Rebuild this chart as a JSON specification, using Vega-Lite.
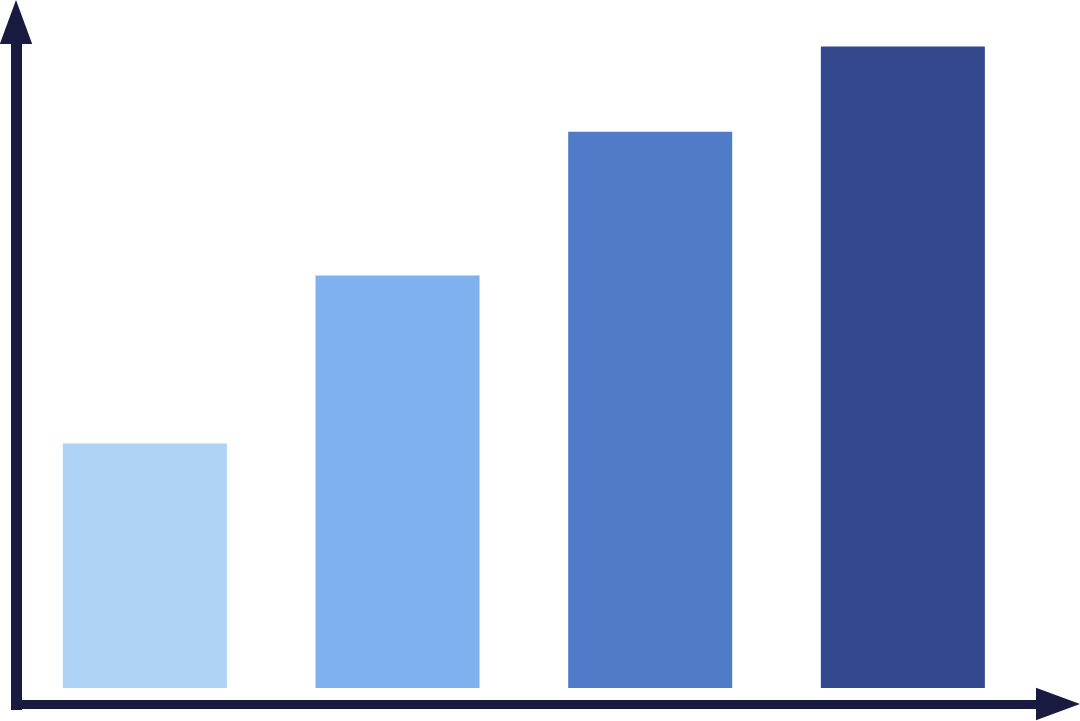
{
  "$schema": "https://vega.github.io/schema/vega-lite/v6.json",
  "width": 1042,
  "height": 682,
  "autosize": "none",
  "padding": {"left": 16, "top": 22, "right": 22, "bottom": 17},
  "background": "white",
  "config": {"view": {"stroke": null}},
  "data": {
    "values": [
      {"n": 1, "value": 38.1},
      {"n": 2, "value": 64.3},
      {"n": 3, "value": 86.7},
      {"n": 4, "value": 100}
    ]
  },
  "layer": [
    {
      "mark": {"type": "bar", "width": 164, "opacity": 1},
      "encoding": {
        "x": {
          "field": "n",
          "type": "quantitative",
          "scale": {"domain": [0.49, 4.614], "nice": false, "zero": false, "padding": 0},
          "axis": {
            "title": null,
            "labels": false,
            "ticks": false,
            "grid": false,
            "domainColor": "#181A40",
            "domainWidth": 9
          }
        },
        "y": {
          "field": "value",
          "type": "quantitative",
          "scale": {"domain": [-2.5, 103.8], "nice": false, "zero": false},
          "axis": {
            "title": null,
            "labels": false,
            "ticks": false,
            "grid": false,
            "domainColor": "#181A40",
            "domainWidth": 11,
            "domainCap": "square"
          }
        },
        "y2": {"datum": 0},
        "color": {
          "field": "n",
          "type": "nominal",
          "scale": {"range": ["#AED3F7", "#7FB1F1", "#4F7BC8", "#34498D"]},
          "legend": null
        }
      }
    },
    {
      "data": {"values": [{}]},
      "mark": {
        "type": "point",
        "shape": "M0,-1L0.736,1L-0.736,1Z",
        "filled": true,
        "opacity": 1,
        "size": 1936,
        "color": "#181A40",
        "strokeWidth": 0
      },
      "encoding": {
        "x": {"datum": 0.49, "type": "quantitative"},
        "y": {"datum": 103.8, "type": "quantitative"}
      }
    },
    {
      "data": {"values": [{}]},
      "mark": {
        "type": "point",
        "shape": "M1,0L-1,-0.736L-1,0.736Z",
        "filled": true,
        "opacity": 1,
        "size": 1936,
        "color": "#181A40",
        "strokeWidth": 0
      },
      "encoding": {
        "x": {"datum": 4.614, "type": "quantitative"},
        "y": {"datum": -2.5, "type": "quantitative"}
      }
    }
  ]
}
